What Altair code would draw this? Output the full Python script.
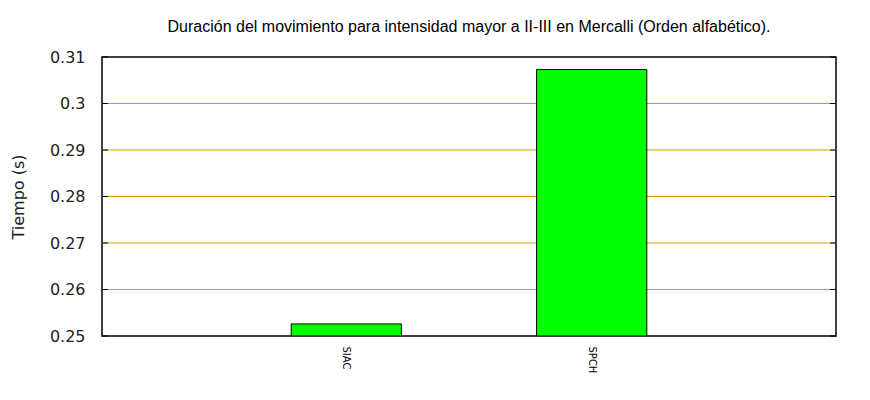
import altair as alt
import pandas as pd

stations = ["SIAC", "SPCH"]
durations = [0.2526, 0.3073]
y_ticks = [0.25, 0.26, 0.27, 0.28, 0.29, 0.30, 0.31]

df = pd.DataFrame({"estacion": stations, "tiempo": durations})
ticks_df = pd.DataFrame({"t": y_ticks})
grid_df = pd.DataFrame({"t": y_ticks[1:-1]})

W, H = 734, 279
grid_color = "#dca000"

yscale = alt.Scale(domain=[0.25, 0.31], nice=False, zero=False)

grid = alt.Chart(grid_df).mark_rule(color=grid_color, strokeWidth=1).encode(
    y=alt.Y("t:Q", scale=yscale), x=alt.value(0), x2=alt.value(W)
)

bars = alt.Chart(df).mark_bar(color="#00ff00", stroke="black", strokeWidth=1, clip=True).encode(
    x=alt.X("estacion:N", sort=stations,
            scale=alt.Scale(paddingInner=0.551, paddingOuter=0.771),
            axis=alt.Axis(title=None, labelAngle=90, labelAlign="left", labelBaseline="middle",
                          ticks=False, labelPadding=10, labelFont="DejaVu Sans",
                          labelFontSize=10, labelColor="black", domain=False, grid=False)),
    y=alt.Y("tiempo:Q", scale=yscale,
            axis=alt.Axis(title="Tiempo (s)", values=y_ticks, format="~g", grid=False,
                          ticks=False, domain=False, labelPadding=17,
                          labelFont="DejaVu Sans", labelFontSize=16, labelColor="#222222",
                          titleFont="DejaVu Sans", titleFontSize=16, titleFontWeight="normal",
                          titleColor="#222222", titlePadding=23)),
    y2=alt.datum(0.25),
)

left_ticks = alt.Chart(ticks_df).mark_rule(color="black", strokeWidth=1).encode(
    y=alt.Y("t:Q", scale=yscale), x=alt.value(0), x2=alt.value(6)
)
right_ticks = alt.Chart(ticks_df).mark_rule(color="black", strokeWidth=1).encode(
    y=alt.Y("t:Q", scale=yscale), x=alt.value(W - 6), x2=alt.value(W)
)

chart = alt.layer(grid, bars, left_ticks, right_ticks).properties(
    width=W, height=H,
    background="white",
    title=alt.TitleParams(
        "Duración del movimiento para intensidad mayor a II-III en Mercalli (Orden alfabético).",
        font="Liberation Sans", fontSize=16, fontWeight="normal", color="black",
        anchor="middle", offset=14),
    autosize=alt.AutoSizeParams(type="none"),
    padding={"left": 94, "top": 49, "right": 26, "bottom": 56},
).configure_view(stroke="black", strokeWidth=1.5)

chart.save("out.html", embed_options={"renderer": "svg", "actions": False})
